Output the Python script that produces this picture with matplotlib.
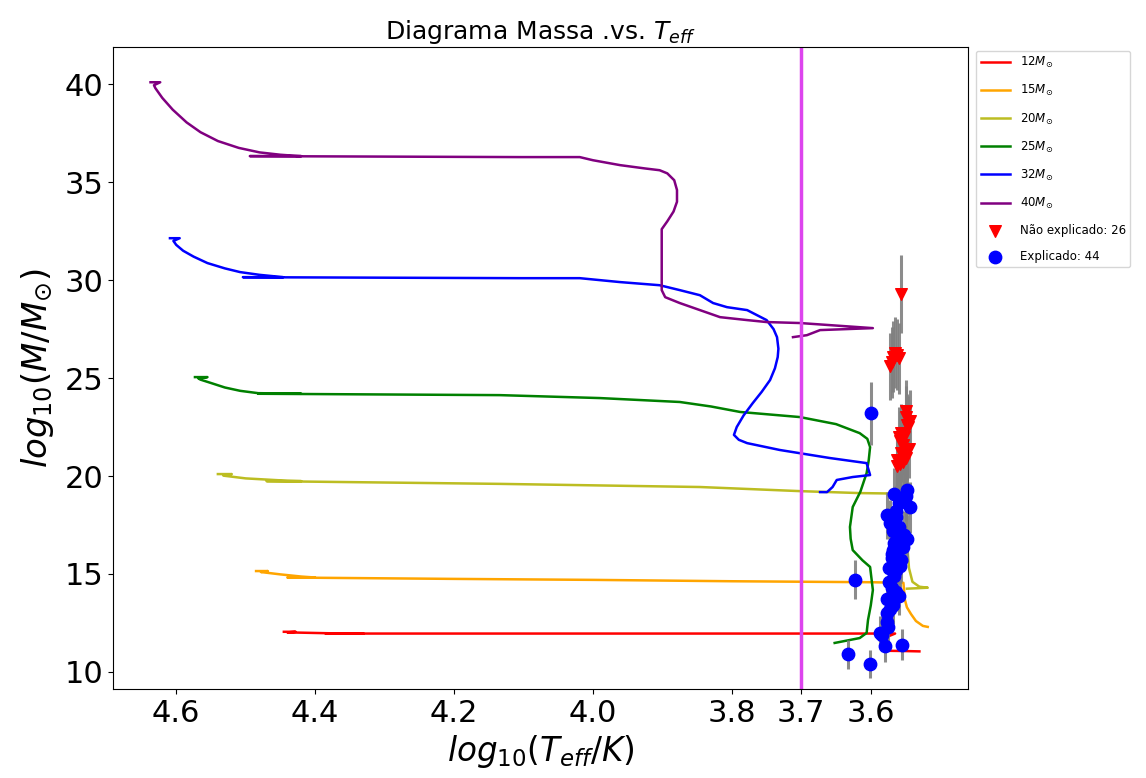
import matplotlib
matplotlib.use("Agg")
import matplotlib.pyplot as plt

# ---------------- data ----------------
track_labels = [r'12$M_{\odot}$', r'15$M_{\odot}$', r'20$M_{\odot}$',
                r'25$M_{\odot}$', r'32$M_{\odot}$', r'40$M_{\odot}$']
track_colors = ['red', 'orange', '#bcbd22', 'green', 'blue', 'purple']

t12_x = [4.445, 4.428, 4.440, 4.40, 4.36, 4.33, 4.385, 4.2, 4.0, 3.8, 3.65, 3.58, 3.565, 3.576, 3.576, 3.555, 3.530]
t12_m = [12.05, 12.05, 12.02, 11.99, 11.96, 11.95, 11.96, 11.96, 11.96, 11.96, 11.96, 11.96, 11.96, 11.8, 11.08, 11.07, 11.05]

t15_x = [4.485, 4.468, 4.478, 4.45, 4.42, 4.40, 4.44, 4.2, 4.0, 3.8, 3.6, 3.553, 3.551, 3.548, 3.542, 3.535, 3.525, 3.518]
t15_m = [15.15, 15.15, 15.10, 14.98, 14.87, 14.82, 14.82, 14.75, 14.70, 14.63, 14.58, 14.55, 13.7, 13.3, 12.95, 12.6, 12.35, 12.30]

t20_x = [4.540, 4.520, 4.532, 4.50, 4.44, 4.42, 4.47, 4.134, 3.846, 3.702, 3.616, 3.554, 3.548, 3.548, 3.545, 3.540, 3.530, 3.518, 3.548]
t20_m = [20.10, 20.10, 20.02, 19.88, 19.76, 19.74, 19.74, 19.60, 19.44, 19.23, 19.13, 19.10, 18.4, 16.7, 15.3, 14.6, 14.35, 14.30, 14.25]

t25_x = [4.573, 4.555, 4.568, 4.565, 4.550, 4.530, 4.508, 4.482, 4.42, 4.482, 4.134, 3.990, 3.875, 3.830, 3.788, 3.702,
         3.650, 3.616, 3.605, 3.601, 3.603, 3.606, 3.615, 3.626, 3.630, 3.629, 3.626, 3.612, 3.601, 3.597, 3.600, 3.604,
         3.606, 3.616, 3.652]
t25_m = [25.05, 25.05, 24.98, 24.92, 24.75, 24.52, 24.35, 24.23, 24.20, 24.20, 24.13, 23.98, 23.78, 23.55, 23.27, 23.01,
         22.65, 22.19, 21.90, 21.48, 20.80, 20.15, 19.20, 18.42, 17.40, 16.80, 16.22, 15.70, 15.36, 14.18, 13.40, 12.65,
         11.99, 11.73, 11.48]

t32_x = [4.609, 4.595, 4.604, 4.600, 4.590, 4.575, 4.555, 4.530, 4.508, 4.480, 4.460, 4.446, 4.504, 4.105, 4.019, 3.961,
         3.904, 3.875, 3.846, 3.827, 3.807, 3.778, 3.750, 3.740, 3.735, 3.733, 3.734, 3.738, 3.745, 3.757, 3.770, 3.783,
         3.793, 3.797, 3.790, 3.778, 3.731, 3.659, 3.606, 3.601, 3.626, 3.649, 3.655, 3.663, 3.673]
t32_m = [32.14, 32.14, 32.00, 31.80, 31.50, 31.20, 30.87, 30.60, 30.41, 30.27, 30.20, 30.15, 30.15, 30.10, 30.10, 29.90,
         29.74, 29.49, 29.23, 28.83, 28.62, 28.47, 27.96, 27.50, 27.09, 26.50, 26.07, 25.50, 24.90, 24.30, 23.72, 23.10,
         22.50, 22.10, 21.85, 21.68, 21.33, 20.92, 20.66, 20.05, 19.95, 19.80, 19.44, 19.18, 19.18]

t40_x = [4.637, 4.623, 4.632, 4.630, 4.620, 4.605, 4.585, 4.565, 4.540, 4.510, 4.480, 4.450, 4.430, 4.420, 4.494, 4.105,
         4.019, 4.000, 3.961, 3.925, 3.904, 3.893, 3.883, 3.879, 3.879, 3.884, 3.893, 3.901, 3.901, 3.896, 3.875, 3.817,
         3.778, 3.750, 3.702, 3.597, 3.673, 3.692, 3.712]
t40_m = [40.10, 40.10, 39.95, 39.80, 39.30, 38.70, 38.05, 37.55, 37.10, 36.75, 36.52, 36.40, 36.35, 36.33, 36.33, 36.28,
         36.28, 36.12, 35.87, 35.70, 35.61, 35.45, 35.10, 34.60, 34.00, 33.50, 33.00, 32.60, 29.49, 29.13, 28.83, 28.11,
         27.96, 27.86, 27.81, 27.55, 27.45, 27.19, 27.09]

tracks_x = [t12_x, t15_x, t20_x, t25_x, t32_x, t40_x]
tracks_m = [t12_m, t15_m, t20_m, t25_m, t32_m, t40_m]

# stars not explained by the tracks (26)
ne_teff = [3.557, 3.565, 3.568, 3.570, 3.562, 3.572, 3.560, 3.550, 3.544, 3.548, 3.556, 3.552, 3.554,
           3.548, 3.552, 3.558, 3.562, 3.550, 3.556, 3.546, 3.560, 3.553, 3.558, 3.545, 3.562, 3.550]
ne_mass = [29.3, 26.3, 26.1, 25.8, 26.2, 25.6, 26.0, 23.3, 22.8, 22.6, 22.2, 22.0, 21.6,
           21.3, 21.0, 20.6, 20.5, 20.9, 21.2, 22.5, 22.0, 20.7, 21.8, 21.4, 20.8, 23.0]
ne_err = [2.0, 1.8, 1.8, 1.8, 1.8, 1.7, 1.8, 1.6, 1.6, 1.6, 1.5, 1.5, 1.5,
          1.5, 1.5, 1.4, 1.4, 1.4, 1.5, 1.6, 1.5, 1.4, 1.5, 1.5, 1.4, 1.6]

# stars explained by the tracks (44)
ex_teff = [3.600, 3.623, 3.633, 3.601, 3.548, 3.558, 3.544, 3.577, 3.563, 3.568, 3.558, 3.554, 3.568, 3.563, 3.570,
           3.558, 3.563, 3.570, 3.563, 3.577, 3.568, 3.576, 3.577, 3.587, 3.580, 3.555, 3.572, 3.560, 3.552, 3.566,
           3.574, 3.560, 3.572, 3.566, 3.556, 3.564, 3.550, 3.570, 3.575, 3.584, 3.560, 3.548, 3.566, 3.574]
ex_mass = [23.2, 14.7, 10.9, 10.4, 19.3, 18.9, 18.4, 18.0, 17.9, 17.2, 16.9, 16.4, 16.2, 15.9, 15.8,
           15.4, 15.2, 14.3, 14.1, 13.7, 13.4, 13.0, 12.55, 12.0, 11.3, 11.4, 17.6, 18.6, 17.0, 16.6,
           14.6, 13.9, 13.2, 14.9, 15.7, 18.2, 19.0, 16.0, 12.3, 11.9, 17.4, 16.8, 19.1, 15.3]
ex_err = [1.6, 1.0, 0.75, 0.7, 1.3, 1.3, 1.3, 1.2, 1.2, 1.2, 1.2, 1.1, 1.1, 1.1, 1.1,
          1.1, 1.0, 1.0, 1.0, 0.95, 0.95, 0.9, 0.9, 0.85, 0.8, 0.8, 1.2, 1.3, 1.2, 1.1,
          1.0, 1.0, 0.9, 1.0, 1.1, 1.3, 1.3, 1.1, 0.85, 0.85, 1.2, 1.2, 1.3, 1.0]

teff_limit = 3.7
xticks = [4.6, 4.4, 4.2, 4.0, 3.8, 3.7, 3.6]

# ---------------- plot ----------------
fig = plt.figure(figsize=(11.46, 7.78), dpi=100)
ax = fig.add_axes([0.0986, 0.1144, 0.7461, 0.8252])

for xs, ms, lab, col in zip(tracks_x, tracks_m, track_labels, track_colors):
    ax.plot(xs, ms, color=col, lw=1.8, label=lab)

ax.axvline(teff_limit, color='#dd44ee', lw=2.5)

ax.errorbar(ne_teff, ne_mass, yerr=ne_err, fmt='none', ecolor='grey', elinewidth=2.2, alpha=0.9, zorder=3)
ax.errorbar(ex_teff, ex_mass, yerr=ex_err, fmt='none', ecolor='grey', elinewidth=2.2, alpha=0.9, zorder=3)
ax.scatter(ne_teff, ne_mass, marker='v', color='red', s=70, zorder=4,
           label='Não explicado: %d' % len(ne_teff))
ax.scatter(ex_teff, ex_mass, marker='o', color='blue', s=80, zorder=4,
           label='Explicado: %d' % len(ex_teff))

ax.set_xlim(4.691, 3.460)
ax.set_ylim(9.13, 41.9)
ax.set_xticks(xticks)
ax.set_xticklabels(['%.1f' % v for v in xticks])
ax.tick_params(axis='both', labelsize=22)
ax.set_yticks([10, 15, 20, 25, 30, 35, 40])

ax.set_xlabel(r'$log_{10}(T_{eff}/K)$', fontsize=23.5)
ax.set_ylabel(r'$log_{10}(M/M_{\odot})$', fontsize=24.5, labelpad=6)
ax.set_title(r'Diagrama Massa .vs. $T_{eff}$', fontsize=18)

ax.legend(loc='upper left', bbox_to_anchor=(1.005, 1.0), fontsize=8.5,
          labelspacing=1.1, handlelength=2.5, borderaxespad=0.3)

fig.savefig('out.png', dpi=100)
